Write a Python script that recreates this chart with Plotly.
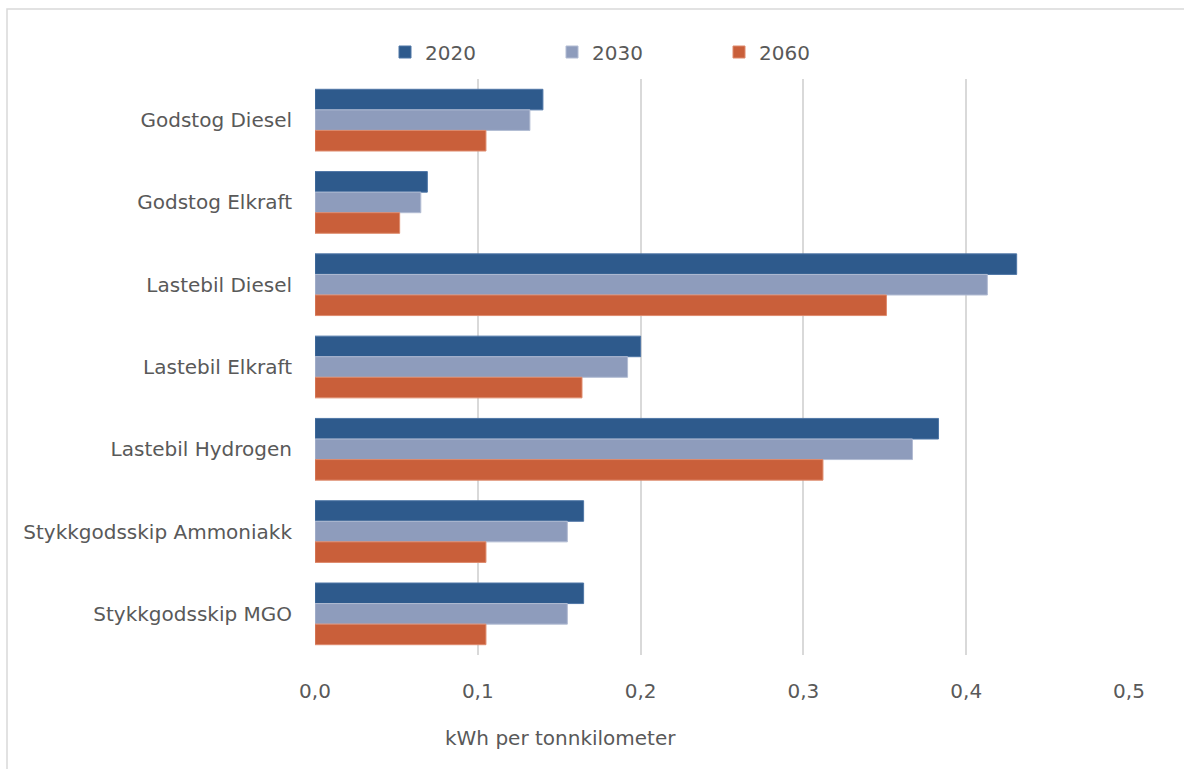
import plotly.graph_objects as go

categories = [
    "Godstog Diesel",
    "Godstog Elkraft",
    "Lastebil Diesel",
    "Lastebil Elkraft",
    "Lastebil Hydrogen",
    "Stykkgodsskip Ammoniakk",
    "Stykkgodsskip MGO",
]
values_2020 = [0.140, 0.069, 0.431, 0.200, 0.383, 0.165, 0.165]
values_2030 = [0.132, 0.065, 0.413, 0.192, 0.367, 0.155, 0.155]
values_2060 = [0.105, 0.052, 0.351, 0.164, 0.312, 0.105, 0.105]
x_ticks = [0.0, 0.1, 0.2, 0.3, 0.4, 0.5]

series = [
    ("2020", values_2020, "#2E5A8C", "#4F76A6"),
    ("2030", values_2030, "#8E9CBC", "#B2BCD3"),
    ("2060", values_2060, "#C95F3A", "#DE8A6C"),
]

FONT = "DejaVu Sans"
TEXT = "#595959"

fig = go.Figure()
for name, vals, color, edge in series:
    fig.add_trace(go.Bar(
        name=name,
        y=categories,
        x=vals,
        orientation="h",
        marker=dict(color=color, line=dict(color=edge, width=1)),
    ))

fig.update_layout(
    width=1184,
    height=769,
    barmode="group",
    bargap=0.25,
    bargroupgap=0,
    separators=", ",
    paper_bgcolor="white",
    plot_bgcolor="white",
    margin=dict(l=315, r=55, t=79, b=114, autoexpand=False),
    font=dict(family=FONT, size=20, color=TEXT),
    legend=dict(
        orientation="h",
        xref="container", yref="container",
        x=385 / 1184, xanchor="left",
        y=(769 - 52) / 769, yanchor="middle",
        traceorder="normal",
        entrywidth=122,
        entrywidthmode="pixels",
        itemwidth=30,
        font=dict(family=FONT, size=20, color=TEXT),
    ),
    showlegend=True,
)

fig.update_xaxes(
    range=[0, 0.5],
    tickvals=x_ticks,
    tickformat=".1f",
    showgrid=True,
    gridcolor="#D9D9D9",
    gridwidth=1.5,
    zeroline=False,
    showline=False,
    ticks="",
    ticklabelstandoff=22,
    tickfont=dict(family=FONT, size=20, color=TEXT),
)
fig.update_yaxes(
    autorange="reversed",
    showgrid=False,
    zeroline=False,
    showline=False,
    ticks="",
    ticklabelstandoff=22,
    tickfont=dict(family=FONT, size=20, color=TEXT),
)

# axis title placed below the tick labels
fig.add_annotation(
    text="kWh per tonnkilometer",
    xref="paper", yref="paper",
    x=(560 - 315) / (1129 - 315), y=-(738 - 655) / (655 - 79),
    xanchor="center", yanchor="middle",
    showarrow=False,
    font=dict(family=FONT, size=20, color=TEXT),
)

# chart frame
fig.add_shape(
    type="rect", xref="paper", yref="paper",
    x0=-(315 - 7) / (1129 - 315), x1=(1200 - 315) / (1129 - 315),
    y0=-(790 - 655) / (655 - 79), y1=(655 - 9) / (655 - 79),
    line=dict(color="#D9D9D9", width=1.5),
    layer="below",
)

fig.write_html("out.html")
